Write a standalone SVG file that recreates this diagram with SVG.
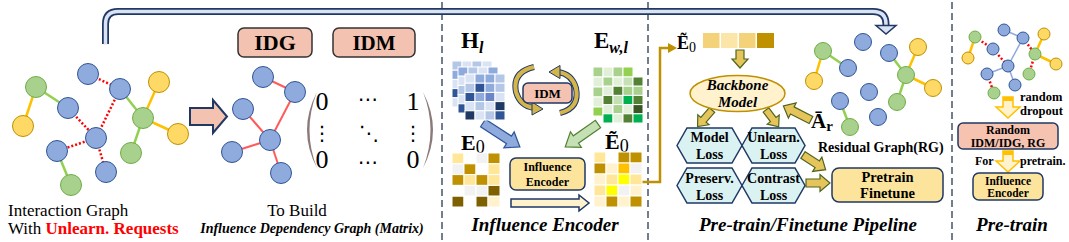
<svg xmlns="http://www.w3.org/2000/svg" width="1069" height="242" viewBox="0 0 1069 242">
<defs>
<style>
.t{font-family:"Liberation Serif","Times New Roman",serif;fill:#000}
.b{font-weight:bold}
.bi{font-weight:bold;font-style:italic}
.nb{fill:#8FAADC;stroke:#2F5597;stroke-width:1}
.ng{fill:#A9D18E;stroke:#70AD47;stroke-width:1}
.ny{fill:#FFD966;stroke:#BF9000;stroke-width:1}
.ey{stroke:#FFC000;stroke-width:2.5;fill:none}
.eg{stroke:#92D050;stroke-width:2.5;fill:none}
.er{stroke:#FF0000;stroke-width:2.5;stroke-dasharray:2 2;fill:none}
.ers{stroke:#FF5B5B;stroke-width:2;fill:none}
.sep{stroke:#44546A;stroke-width:1.5;stroke-dasharray:7 4;fill:none}
.cell rect{stroke:#fff;stroke-width:1}
.ga{fill:#E5C45C;stroke:#50641E;stroke-width:1.2}
.hex{fill:#DAF2F2;stroke:#203864;stroke-width:1.5}
.yb{fill:#FCE49C;stroke:#203864;stroke-width:1.5}
.pb{fill:#F6C3B1;stroke:#203864;stroke-width:1.5}
.pa{fill:#FFF2CC;stroke:#FFC000;stroke-width:1.5}
</style>
</defs>

<!-- separators -->
<g id="separators">
<line class="sep" x1="442" y1="2" x2="442" y2="242"/>
<line class="sep" x1="648" y1="2" x2="648" y2="242"/>
<line class="sep" x1="952" y1="2" x2="952" y2="242"/>
</g>

<!-- connectors -->
<g id="connectors">
<!-- top pipe -->
<path d="M105.5 44 V24 Q105.5 11.5 118 11.5 H873 Q886 11.5 886 24 V27" stroke="#203864" stroke-width="7" fill="none"/>
<path d="M105.5 44.5 V24 Q105.5 11.5 118 11.5 H873 Q886 11.5 886 24 V28" stroke="#DAE3F3" stroke-width="3.5" fill="none"/>
<polygon points="876,25.5 896,25.5 886,34" fill="#DAE3F3" stroke="#203864" stroke-width="1.5"/>
<!-- pink block arrow -->
<polygon points="190,108 213,108 213,100 227,116.5 213,133 213,125 190,125" fill="#F4C2B0" stroke="#203864" stroke-width="2"/>
<!-- blue and green arrows -->
<polygon points="0,-4.5 31,-4.5 31,-9.5 44,0 31,9.5 31,4.5 0,4.5" transform="translate(483,123) rotate(33)" fill="#8FAADC" stroke="#2F5597" stroke-width="1.2"/>
<polygon points="0,-4.5 27,-4.5 27,-9.5 40,0 27,9.5 27,4.5 0,4.5" transform="translate(598,124) rotate(145)" fill="#C5E0B4" stroke="#548235" stroke-width="1.2"/>
<!-- circular arrows -->
<path d="M534 67 Q512 72 516 92 Q520 106 534 108" stroke="#203864" stroke-width="6" fill="none"/>
<path d="M534 67 Q512 72 516 92 Q520 106 534 108" stroke="#D4B54C" stroke-width="4" fill="none"/>
<polygon points="532,102 543,109 532,115" fill="#D4B54C" stroke="#203864" stroke-width="1"/>
<path d="M560 113 Q580 108 576 88 Q572 74 558 72" stroke="#203864" stroke-width="6" fill="none"/>
<path d="M560 113 Q580 108 576 88 Q572 74 558 72" stroke="#D4B54C" stroke-width="4" fill="none"/>
<polygon points="560,65.5 549,72 560,78.5" fill="#D4B54C" stroke="#203864" stroke-width="1"/>
<!-- encoder bottom arrow -->
<polygon points="511,199 579,199 579,195 589,203 579,211 579,207 511,207" fill="#FFF2CC" stroke="#203864" stroke-width="1.5"/>
<!-- gold connector -->
<path d="M642 182 H660 V48 H669" stroke="#BF9000" stroke-width="2.5" fill="none"/>
<polygon points="668,43 677,48 668,53" fill="#BF9000"/>
<!-- pipeline arrows -->
<polygon class="ga" points="0,-4 9,-4 9,-8 18,0 9,8 9,4 0,4" transform="translate(740,50) rotate(90)"/>
<polygon class="ga" points="0,-3.5 13,-3.5 13,-7.5 22,0 13,7.5 13,3.5 0,3.5" transform="translate(712,110) rotate(131)"/>
<polygon class="ga" points="0,-3.5 12,-3.5 12,-7.5 21,0 12,7.5 12,3.5 0,3.5" transform="translate(766,110) rotate(53)"/>
<polygon class="ga" points="0,-4 21,-4 21,-8.5 31,0 21,8.5 21,4 0,4" transform="translate(811,120) rotate(207)"/>
<polygon class="ga" points="0,-4 17,-4 17,-8.5 27,0 17,8.5 17,4 0,4" transform="translate(803,155) rotate(33)"/>
<polygon class="ga" points="0,-4 14,-4 14,-8.5 24,0 14,8.5 14,4 0,4" transform="translate(806,183)"/>
<!-- pretrain arrows -->
<polygon class="pa" points="1003,97 1013,97 1013,107 1020,107 1008,118 996,107 1003,107"/>
<rect x="1003" y="97" width="10" height="4" fill="#FFC000"/>
<polygon class="pa" points="1003,151 1013,151 1013,161 1020,161 1008,172 996,161 1003,161"/>
<rect x="1003" y="151" width="10" height="4" fill="#FFC000"/>
</g>

<!-- Interaction graph -->
<g id="interaction-graph">
<line class="ey" x1="36" y1="87" x2="23" y2="126"/>
<line class="eg" x1="36" y1="87" x2="68" y2="108"/>
<line class="er" x1="88" y1="74" x2="120" y2="89"/>
<line class="er" x1="120" y1="89" x2="96" y2="138"/>
<line class="er" x1="68" y1="108" x2="96" y2="138"/>
<line class="er" x1="96" y1="138" x2="57" y2="151"/>
<line class="er" x1="96" y1="138" x2="106" y2="172"/>
<line class="eg" x1="120" y1="89" x2="143" y2="118"/>
<line class="ey" x1="143" y1="118" x2="159" y2="82"/>
<line class="ey" x1="143" y1="118" x2="178" y2="134"/>
<line class="eg" x1="143" y1="118" x2="131" y2="153"/>
<line class="eg" x1="57" y1="151" x2="71" y2="185"/>
<circle class="ng" cx="36" cy="87" r="10.5"/>
<circle class="ny" cx="23" cy="126" r="10.5"/>
<circle class="nb" cx="88" cy="74" r="10.5"/>
<circle class="nb" cx="120" cy="89" r="10.5"/>
<circle class="nb" cx="68" cy="108" r="10.5"/>
<circle class="ny" cx="159" cy="82" r="10.5"/>
<circle class="ng" cx="143" cy="118" r="10.5"/>
<circle class="ny" cx="178" cy="134" r="10.5"/>
<circle class="nb" cx="96" cy="138" r="10.5"/>
<circle class="nb" cx="57" cy="151" r="10.5"/>
<circle class="ng" cx="131" cy="153" r="10.5"/>
<circle class="nb" cx="106" cy="172" r="10.5"/>
<circle class="ng" cx="71" cy="185" r="10.5"/>
</g>
<g id="interaction-label">
<text class="t" x="8" y="216" font-size="17">Interaction Graph</text>
<text class="t" x="8" y="234" font-size="17">With <tspan class="b" fill="#FF0000">Unlearn. Requests</tspan></text>
</g>

<!-- IDG / IDM boxes -->
<g id="idg-box">
<rect x="238" y="28" width="74" height="29" rx="6" fill="#F4C2B0" stroke="#333" stroke-width="1.5"/>
<text class="t b" x="275" y="50" font-size="22" text-anchor="middle">IDG</text>
</g>
<g id="idm-box">
<rect x="333" y="28" width="82" height="29" rx="6" fill="#F4C2B0" stroke="#333" stroke-width="1.5"/>
<text class="t b" x="374" y="50" font-size="21" text-anchor="middle">IDM</text>
</g>

<!-- IDG graph -->
<g id="idg-graph">
<line class="ers" x1="263" y1="77" x2="295" y2="92"/>
<line class="ers" x1="295" y1="92" x2="270" y2="140"/>
<line class="ers" x1="243" y1="109" x2="270" y2="140"/>
<line class="ers" x1="270" y1="140" x2="232" y2="152"/>
<line class="ers" x1="270" y1="140" x2="281" y2="173"/>
<circle class="nb" cx="263" cy="77" r="10.5"/>
<circle class="nb" cx="295" cy="92" r="10.5"/>
<circle class="nb" cx="243" cy="109" r="10.5"/>
<circle class="nb" cx="270" cy="140" r="10.5"/>
<circle class="nb" cx="232" cy="152" r="10.5"/>
<circle class="nb" cx="281" cy="173" r="10.5"/>
</g>

<!-- matrix -->
<g id="idm-matrix">
<path d="M317 92 Q297 130 317 168 Q302 130 317 92 Z" fill="#8C7A7A"/>
<path d="M423 92 Q443 130 423 168 Q438 130 423 92 Z" fill="#8C7A7A"/>
<g class="t" font-size="26" text-anchor="middle">
<text x="322" y="110">0</text>
<text x="413" y="110">1</text>
<text x="322" y="168">0</text>
<text x="413" y="168">0</text>
</g>
<g font-family="DejaVu Sans, sans-serif" font-size="20" text-anchor="middle" fill="#000">
<text x="368" y="106">⋯</text>
<text x="368" y="169">⋯</text>
<text x="322" y="140">⋮</text>
<text x="413" y="140">⋮</text>
<text x="369" y="140">⋱</text>
</g>
</g>
<g id="idg-label">
<text class="t" x="297" y="216" font-size="17" text-anchor="middle">To Build</text>
<text class="t bi" x="312" y="233" font-size="14" text-anchor="middle">Influence Dependency Graph (Matrix)</text>
</g>

<!-- Influence encoder section -->
<g id="h-label">
<text class="t b" x="461" y="48" font-size="23">H<tspan class="bi" font-size="16" dy="5">l</tspan></text>
</g>
<g id="ewl-label">
<text class="t b" x="594" y="48" font-size="23">E<tspan class="bi" font-size="16" dy="5">w,l</tspan></text>
</g>
<g id="h-matrix" class="cell">
<g>
<rect x="452" y="61" width="10" height="9.2" fill="#B4C7E7"/><rect x="462" y="61" width="10" height="9.2" fill="#DAE3F3"/><rect x="472" y="61" width="10" height="9.2" fill="#B4C7E7"/><rect x="482" y="61" width="10" height="9.2" fill="#DAE3F3"/>
<rect x="452" y="70.2" width="10" height="9.2" fill="#8FAADC"/><rect x="452" y="79.4" width="10" height="9.2" fill="#DAE3F3"/><rect x="452" y="88.6" width="10" height="9.2" fill="#2F5597"/><rect x="452" y="97.8" width="10" height="9.2" fill="#DAE3F3"/>
</g>
<g>
<rect x="458" y="67" width="10" height="9.2" fill="#8FAADC"/><rect x="468" y="67" width="10" height="9.2" fill="#B4C7E7"/><rect x="478" y="67" width="10" height="9.2" fill="#DAE3F3"/><rect x="488" y="67" width="10" height="9.2" fill="#8FAADC"/>
<rect x="458" y="76.2" width="10" height="9.2" fill="#DAE3F3"/><rect x="458" y="85.4" width="10" height="9.2" fill="#B4C7E7"/><rect x="458" y="94.6" width="10" height="9.2" fill="#DAE3F3"/><rect x="458" y="103.8" width="10" height="9.2" fill="#2F5597"/>
</g>
<g>
<rect x="465" y="74" width="10" height="9.2" fill="#DAE3F3"/><rect x="475" y="74" width="10" height="9.2" fill="#8FAADC"/><rect x="485" y="74" width="10" height="9.2" fill="#8FAADC"/><rect x="495" y="74" width="10" height="9.2" fill="#B4C7E7"/>
<rect x="465" y="83.2" width="10" height="9.2" fill="#B4C7E7"/><rect x="475" y="83.2" width="10" height="9.2" fill="#2F5597"/><rect x="485" y="83.2" width="10" height="9.2" fill="#8FAADC"/><rect x="495" y="83.2" width="10" height="9.2" fill="#B4C7E7"/>
<rect x="465" y="92.4" width="10" height="9.2" fill="#2F5597"/><rect x="475" y="92.4" width="10" height="9.2" fill="#8FAADC"/><rect x="485" y="92.4" width="10" height="9.2" fill="#6A86C8"/><rect x="495" y="92.4" width="10" height="9.2" fill="#DAE3F3"/>
<rect x="465" y="101.6" width="10" height="9.2" fill="#DAE3F3"/><rect x="475" y="101.6" width="10" height="9.2" fill="#B4C7E7"/><rect x="485" y="101.6" width="10" height="9.2" fill="#DAE3F3"/><rect x="495" y="101.6" width="10" height="9.2" fill="#203864"/>
<rect x="465" y="110.8" width="10" height="9.2" fill="#203864"/><rect x="475" y="110.8" width="10" height="9.2" fill="#DAE3F3"/><rect x="485" y="110.8" width="10" height="9.2" fill="#B4C7E7"/><rect x="495" y="110.8" width="10" height="9.2" fill="#2F5597"/>
</g>
</g>
<g id="ewl-matrix" class="cell">
<g>
<rect x="593" y="67" width="10" height="10" fill="#A9D18E"/><rect x="603" y="67" width="10" height="10" fill="#E2F0D9"/><rect x="613" y="67" width="10" height="10" fill="#A9D18E"/><rect x="623" y="67" width="10" height="10" fill="#92D050"/>
<rect x="593" y="77" width="10" height="10" fill="#E2F0D9"/><rect x="593" y="87" width="10" height="10" fill="#A9D18E"/><rect x="593" y="97" width="10" height="10" fill="#E2F0D9"/><rect x="593" y="107" width="10" height="9" fill="#92D050"/>
</g>
<g>
<rect x="603" y="77" width="10" height="9.2" fill="#A9D18E"/><rect x="613" y="77" width="10" height="9.2" fill="#E2F0D9"/><rect x="623" y="77" width="10" height="9.2" fill="#C5E0B4"/><rect x="633" y="77" width="10" height="9.2" fill="#548235"/>
<rect x="603" y="86.2" width="10" height="9.2" fill="#E2F0D9"/><rect x="613" y="86.2" width="10" height="9.2" fill="#548235"/><rect x="623" y="86.2" width="10" height="9.2" fill="#A9D18E"/><rect x="633" y="86.2" width="10" height="9.2" fill="#A9D18E"/>
<rect x="603" y="95.4" width="10" height="9.2" fill="#548235"/><rect x="613" y="95.4" width="10" height="9.2" fill="#C5E0B4"/><rect x="623" y="95.4" width="10" height="9.2" fill="#00B050"/><rect x="633" y="95.4" width="10" height="9.2" fill="#548235"/>
<rect x="603" y="104.6" width="10" height="9.2" fill="#E2F0D9"/><rect x="613" y="104.6" width="10" height="9.2" fill="#A9D18E"/><rect x="623" y="104.6" width="10" height="9.2" fill="#E2F0D9"/><rect x="633" y="104.6" width="10" height="9.2" fill="#385723"/>
<rect x="603" y="113.8" width="10" height="9.2" fill="#00B050"/><rect x="613" y="113.8" width="10" height="9.2" fill="#E2F0D9"/><rect x="623" y="113.8" width="10" height="9.2" fill="#548235"/><rect x="633" y="113.8" width="10" height="9.2" fill="#00B050"/>
</g>
</g>
<g id="idm-small">
<rect x="523" y="83" width="49" height="20" rx="5" fill="#F4C2B0" stroke="#203864" stroke-width="1.5"/>
<text class="t b" x="547.5" y="98" font-size="13" text-anchor="middle">IDM</text>
</g>
<g id="e0-label">
<text class="t b" x="461" y="150" font-size="22">E<tspan font-weight="normal" font-size="18" dy="3">0</tspan></text>
</g>
<g id="e0-matrix" class="cell">
<rect x="452" y="153" width="12" height="10.8" fill="#FFE699"/><rect x="464" y="153" width="12" height="10.8" fill="#FFFFFF" stroke="#E0E0E0"/><rect x="476" y="153" width="12" height="10.8" fill="#F2F2F2"/><rect x="488" y="153" width="12" height="10.8" fill="#BF9000"/>
<rect x="452" y="163.8" width="12" height="10.8" fill="#F2F2F2"/><rect x="464" y="163.8" width="12" height="10.8" fill="#BF9000"/><rect x="476" y="163.8" width="12" height="10.8" fill="#FFFFFF"/><rect x="488" y="163.8" width="12" height="10.8" fill="#FFE699"/>
<rect x="452" y="174.6" width="12" height="10.8" fill="#BF9000"/><rect x="464" y="174.6" width="12" height="10.8" fill="#FFE699"/><rect x="476" y="174.6" width="12" height="10.8" fill="#BF9000"/><rect x="488" y="174.6" width="12" height="10.8" fill="#FFE699"/>
<rect x="452" y="185.4" width="12" height="10.8" fill="#FFFFFF"/><rect x="464" y="185.4" width="12" height="10.8" fill="#F2F2F2"/><rect x="476" y="185.4" width="12" height="10.8" fill="#F2F2F2"/><rect x="488" y="185.4" width="12" height="10.8" fill="#7F6000"/>
<rect x="452" y="196.2" width="12" height="10.8" fill="#7F6000"/><rect x="464" y="196.2" width="12" height="10.8" fill="#FFFFFF"/><rect x="476" y="196.2" width="12" height="10.8" fill="#7F6000"/><rect x="488" y="196.2" width="12" height="10.8" fill="#FFF2CC"/>
</g>
<g id="influence-encoder">
<rect x="510" y="158" width="75" height="32" rx="6" class="yb"/>
<text class="t b" x="547.5" y="171" font-size="12" text-anchor="middle">Influence</text>
<text class="t b" x="547.5" y="186" font-size="12" text-anchor="middle">Encoder</text>
</g>
<g id="e0t-label">
<text class="t b" x="605" y="149" font-size="22">Ẽ<tspan font-weight="normal" font-size="18" dy="3">0</tspan></text>
</g>
<g id="e0t-matrix" class="cell">
<rect x="594" y="152" width="12" height="11" fill="#FFE699"/><rect x="606" y="152" width="12" height="11" fill="#FFFFFF"/><rect x="618" y="152" width="12" height="11" fill="#BF9000"/><rect x="630" y="152" width="12" height="11" fill="#BF9000"/>
<rect x="594" y="163" width="12" height="11" fill="#BF9000"/><rect x="606" y="163" width="12" height="11" fill="#FFF2CC" stroke="#9C7C00"/><rect x="618" y="163" width="12" height="11" fill="#FFC000"/><rect x="630" y="163" width="12" height="11" fill="#F2F2F2"/>
<rect x="594" y="174" width="12" height="11" fill="#FFF2CC" stroke="#9C7C00"/><rect x="606" y="174" width="12" height="11" fill="#FFE699"/><rect x="618" y="174" width="12" height="11" fill="#FFFF00"/><rect x="630" y="174" width="12" height="11" fill="#FFE699"/>
<rect x="594" y="185" width="12" height="11" fill="#FFE699"/><rect x="606" y="185" width="12" height="11" fill="#FFFF00"/><rect x="618" y="185" width="12" height="11" fill="#F2F2F2"/><rect x="630" y="185" width="12" height="11" fill="#FFF2CC" stroke="#9C7C00"/>
<rect x="594" y="196" width="12" height="11" fill="#FFF2CC" stroke="#9C7C00"/><rect x="606" y="196" width="12" height="11" fill="#BF9000"/><rect x="618" y="196" width="12" height="11" fill="#FFF2CC" stroke="#9C7C00"/><rect x="630" y="196" width="12" height="11" fill="#BF9000"/>
</g>
<g id="encoder-title">
<text class="t bi" x="545" y="231" font-size="19" text-anchor="middle">Influence Encoder</text>
</g>

<!-- Pipeline section -->
<g id="e0t-vector">
<text class="t b" x="677" y="49" font-size="18">Ẽ<tspan font-weight="normal" font-size="14" dy="3">0</tspan></text>
<rect x="703" y="33" width="16.5" height="15" fill="#F4D27A"/>
<rect x="721" y="33" width="16.5" height="15" fill="#FBE5A9"/>
<rect x="739" y="33" width="16.5" height="15" fill="#F4D27A"/>
<rect x="757" y="33" width="17" height="15" fill="#BF9000"/>
</g>
<g id="backbone">
<ellipse cx="737.5" cy="93.5" rx="47.5" ry="18" fill="#FFF2CC" stroke="#BF9000" stroke-width="1.5"/>
<text class="t bi" x="737.5" y="90" font-size="15" text-anchor="middle">Backbone</text>
<text class="t bi" x="737.5" y="107" font-size="15" text-anchor="middle">Model</text>
</g>
<g id="model-loss">
<polygon class="hex" points="677,145.5 687,128 732,128 742,145.5 732,163 687,163"/>
<text class="t b" x="709.5" y="142" font-size="14" text-anchor="middle">Model</text>
<text class="t b" x="709.5" y="159" font-size="14" text-anchor="middle">Loss</text>
</g>
<g id="unlearn-loss">
<polygon class="hex" points="742,145.5 752,128 795,128 805,145.5 795,163 752,163"/>
<text class="t b" x="773.5" y="142" font-size="14" text-anchor="middle">Unlearn.</text>
<text class="t b" x="773.5" y="159" font-size="14" text-anchor="middle">Loss</text>
</g>
<g id="preserv-loss">
<polygon class="hex" points="677,185.5 687,168 732,168 742,185.5 732,203 687,203"/>
<text class="t b" x="709.5" y="183" font-size="14" text-anchor="middle">Preserv.</text>
<text class="t b" x="709.5" y="200" font-size="14" text-anchor="middle">Loss</text>
</g>
<g id="contrast-loss">
<polygon class="hex" points="742,185.5 752,168 795,168 805,185.5 795,203 752,203"/>
<text class="t b" x="773.5" y="183" font-size="14" text-anchor="middle">Contrast</text>
<text class="t b" x="773.5" y="200" font-size="14" text-anchor="middle">Loss</text>
</g>
<g id="ar-label">
<text class="t b" x="811" y="128" font-size="21">Ā<tspan font-size="15" dy="3">r</tspan></text>
</g>
<g id="residual-graph">
<line class="ey" x1="823" y1="51" x2="814" y2="81"/>
<line class="eg" x1="823" y1="51" x2="848" y2="68"/>
<line class="eg" x1="889" y1="53" x2="906" y2="75"/>
<line class="ey" x1="906" y1="75" x2="918" y2="47"/>
<line class="ey" x1="906" y1="75" x2="933" y2="88"/>
<line class="eg" x1="906" y1="75" x2="897" y2="102"/>
<line class="eg" x1="840" y1="101" x2="850" y2="127"/>
<circle class="nb" cx="863" cy="42" r="8.5"/>
<circle class="ng" cx="823" cy="51" r="8.5"/>
<circle class="nb" cx="848" cy="68" r="8.5"/>
<circle class="nb" cx="889" cy="53" r="8.5"/>
<circle class="ny" cx="918" cy="47" r="8.5"/>
<circle class="ny" cx="814" cy="81" r="8.5"/>
<circle class="ng" cx="906" cy="75" r="8.5"/>
<circle class="ny" cx="933" cy="88" r="8.5"/>
<circle class="nb" cx="869" cy="92" r="8.5"/>
<circle class="nb" cx="840" cy="101" r="8.5"/>
<circle class="ng" cx="897" cy="102" r="8.5"/>
<circle class="nb" cx="878" cy="117" r="8.5"/>
<circle class="ng" cx="850" cy="127" r="8.5"/>
<text class="t b" x="818" y="152" font-size="14">Residual Graph(RG)</text>
</g>
<g id="pretrain-finetune">
<rect x="832" y="168" width="111" height="34" rx="7" class="yb"/>
<text class="t b" x="887.5" y="182" font-size="14.5" text-anchor="middle">Pretrain</text>
<text class="t b" x="887.5" y="198" font-size="14.5" text-anchor="middle">Finetune</text>
</g>
<g id="pipeline-title">
<text class="t bi" x="808" y="231" font-size="19" text-anchor="middle">Pre-train/Finetune Pipeline</text>
</g>

<!-- Pre-train section -->
<g id="pretrain-graph">
<line class="ey" stroke-width="1.5" x1="975" y1="37" x2="968" y2="58"/>
<line class="er" stroke-width="1.5" stroke-dasharray="1.5 1.5" x1="975" y1="37" x2="993" y2="49"/>
<line class="er" stroke-width="1.5" stroke-dasharray="1.5 1.5" x1="993" y1="49" x2="1008" y2="66"/>
<line stroke="#8FAADC" stroke-width="1.5" x1="1004" y1="30" x2="1023" y2="38"/>
<line stroke="#8FAADC" stroke-width="1.5" x1="1023" y1="38" x2="1008" y2="66"/>
<line class="er" stroke-width="1.5" stroke-dasharray="1.5 1.5" x1="1023" y1="38" x2="1035" y2="54"/>
<line class="ey" stroke-width="1.5" x1="1035" y1="54" x2="1044" y2="34"/>
<line class="ey" stroke-width="1.5" x1="1035" y1="54" x2="1056" y2="64"/>
<line class="er" stroke-width="1.5" stroke-dasharray="1.5 1.5" x1="1035" y1="54" x2="1029" y2="74"/>
<line stroke="#8FAADC" stroke-width="1.5" x1="1008" y1="66" x2="987" y2="74"/>
<line stroke="#8FAADC" stroke-width="1.5" x1="1008" y1="66" x2="1015" y2="85"/>
<line class="er" stroke-width="1.5" stroke-dasharray="1.5 1.5" x1="987" y1="74" x2="994" y2="93"/>
<circle class="ng" cx="975" cy="37" r="6"/>
<circle class="ny" cx="968" cy="58" r="6"/>
<circle class="nb" cx="1004" cy="30" r="6"/>
<circle class="nb" cx="1023" cy="38" r="6"/>
<circle class="nb" cx="993" cy="49" r="6"/>
<circle class="ny" cx="1044" cy="34" r="6"/>
<circle class="ng" cx="1035" cy="54" r="6"/>
<circle class="ny" cx="1056" cy="64" r="6"/>
<circle class="nb" cx="1008" cy="66" r="6"/>
<circle class="nb" cx="987" cy="74" r="6"/>
<circle class="ng" cx="1029" cy="74" r="6"/>
<circle class="nb" cx="1015" cy="85" r="6"/>
<circle class="ng" cx="994" cy="93" r="6"/>
</g>
<g id="dropout-label">
<text class="t b" x="1020" y="101" font-size="12.5">random</text>
<text class="t b" x="1020" y="115" font-size="12.5">dropout</text>
</g>
<g id="random-box">
<rect x="958" y="123" width="100" height="26" rx="5" class="pb"/>
<text class="t b" x="1008" y="133.5" font-size="12" text-anchor="middle">Random</text>
<text class="t b" x="1008" y="146.5" font-size="12" text-anchor="middle">IDM/IDG, RG</text>
</g>
<g id="for-pretrain-label">
<text class="t b" x="975" y="165" font-size="12">For</text>
<text class="t b" x="1020" y="165" font-size="12">pretrain.</text>
</g>
<g id="pretrain-encoder">
<rect x="973" y="173" width="70" height="27" rx="6" class="yb"/>
<text class="t b" x="1008" y="184.5" font-size="11.5" text-anchor="middle">Influence</text>
<text class="t b" x="1008" y="197" font-size="11.5" text-anchor="middle">Encoder</text>
</g>
<g id="pretrain-title">
<text class="t bi" x="1012" y="231" font-size="19" text-anchor="middle">Pre-train</text>
</g>
</svg>
